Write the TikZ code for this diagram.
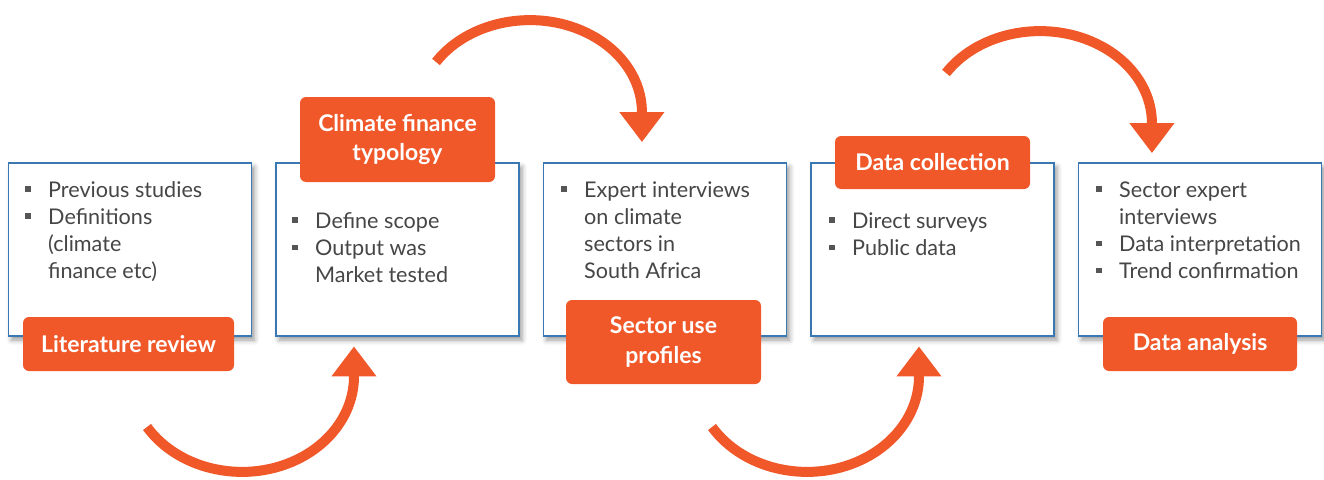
\documentclass[tikz,border=0pt]{standalone}
\usepackage{fontspec}
\setmainfont{Lato}
\usetikzlibrary{arrows.meta,shadows.blur}
\definecolor{orng}{RGB}{240,88,42}
\definecolor{bxblue}{RGB}{58,120,180}
\definecolor{txtgray}{RGB}{70,70,70}
\definecolor{bulgray}{RGB}{85,85,85}
\newcommand{\bul}{\textcolor{bulgray}{\raisebox{5.5pt}{\rule{5.5pt}{5.5pt}}}}
\newenvironment{blist}{\fontsize{21.6}{27.3}\selectfont\color{txtgray}\begin{tabular}[t]{@{}p{22.75pt}@{}l@{}}}{\end{tabular}}
\begin{document}
\begin{tikzpicture}[x=1pt,y=-1pt,
  box/.style={draw=bxblue, line width=1.2pt, fill=white, minimum width=243pt, minimum height=173pt, inner sep=0pt,
    blur shadow={shadow xshift=3pt, shadow yshift=-4pt, shadow blur radius=5pt, shadow opacity=40}},
  lbl/.style={fill=orng, rounded corners=6pt, text=white, font=\fontsize{23}{29.5}\selectfont\bfseries, align=center, inner sep=0pt},
  txt/.style={anchor=base west, inner sep=0pt},
  arr/.style={orng, line width=10pt, -{Triangle[width=43pt,length=30pt]}}]
\useasboundingbox (0,0) rectangle (1324,479);

% boxes
\node[box] (b1) at (130,249.5) {};
\node[box] (b2) at (397.5,249.5) {};
\node[box] (b3) at (665,249.5) {};
\node[box] (b4) at (932.5,249.5) {};
\node[box] (b5) at (1200,249.5) {};

% box texts
\node[txt] (t1) at (25.25,197) {\begin{blist}\bul & Previous studies\\ \bul & Definitions\\ & (climate\\ & finance etc)\end{blist}};
\node[txt] (t2) at (292.25,228.3) {\begin{blist}\bul & Define scope\\ \bul & Output was\\ & Market tested\end{blist}};
\node[txt] (t3) at (561.25,197) {\begin{blist}\bul & Expert interviews\\ & on climate\\ & sectors in\\ & South Africa\end{blist}};
\node[txt] (t4) at (829.25,228.3) {\begin{blist}\bul & Direct surveys\\ \bul & Public data\end{blist}};
\node[txt] (t5) at (1096.25,197) {\begin{blist}\bul & Sector expert\\ & interviews\\ \bul & Data interpretation\\ \bul & Trend confirmation\end{blist}};

% labels
\node[lbl, minimum width=211pt, minimum height=54pt] (l1) at (128.5,344) {Literature review};
\node[lbl, minimum width=195pt, minimum height=85pt] (l2) at (397.5,139.5) {Climate finance\\typology};
\node[lbl, minimum width=195pt, minimum height=84pt] (l3) at (663.5,342) {Sector use\\profiles};
\node[lbl, minimum width=195pt, minimum height=53pt] (l4) at (932.5,162.5) {Data collection};
\node[lbl, minimum width=194pt, minimum height=54pt] (l5) at (1200,344) {Data analysis};

% curved arrows
\coordinate (a1s) at (147,427);
\coordinate (a2s) at (436,62);
\coordinate (a3s) at (712,427);
\coordinate (a4s) at (946,73);
\draw[arr] (a1s) arc[start angle=212, end angle=360, x radius=112pt, y radius=95.5pt] -- ++(0,-30);
\draw[arr] (a3s) arc[start angle=212, end angle=360, x radius=112pt, y radius=95.5pt] -- ++(0,-30);
\draw[arr] (a2s) arc[start angle=147, end angle=0, x radius=112pt, y radius=92pt] -- ++(0,30);
\draw[arr] (a4s) arc[start angle=147, end angle=0, x radius=112pt, y radius=92pt] -- ++(0,30);
\end{tikzpicture}
\end{document}
